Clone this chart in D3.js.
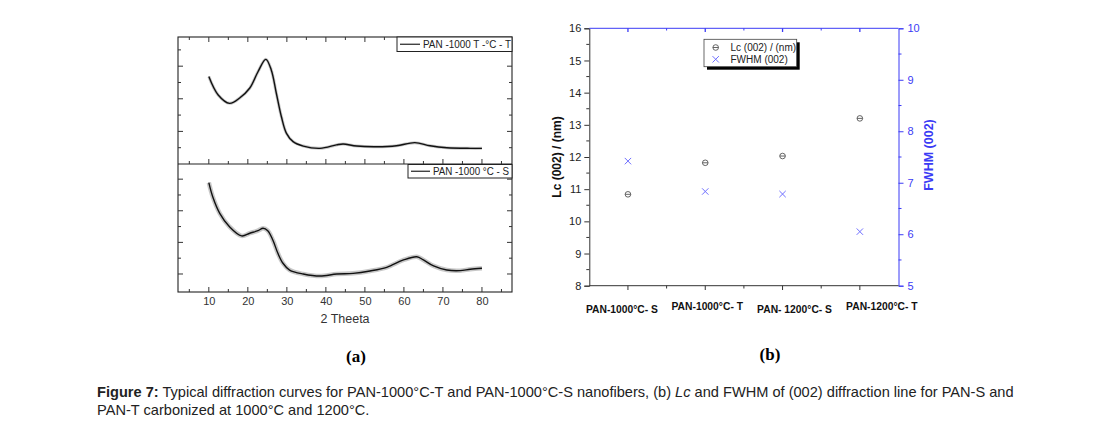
<!DOCTYPE html>
<html><head><meta charset="utf-8">
<script src="https://cdn.jsdelivr.net/npm/d3@7"></script>
<style>body{margin:0;background:#fff}svg{display:block}</style>
</head><body>
<svg id="c" width="1096" height="421"></svg>
<script>
// ---------- Panel (a) data: 2θ vs intensity (a.u.) ----------
const thetaT = [10,12.4,15.3,17.9,20.5,22.6,24.6,26,27.3,28.6,29.9,31.6,34.2,38.5,42.7,44.4,47.9,53,58.1,62.8,66.7,71,77,80];
const intT   = [536,423,372,405,466,566,642,577,434,290,188,137,110,96,117,123,110,106,112,131,112,100,96,96];
const thetaS = [10,11,12.8,15.3,18.4,20.5,22.6,23.9,25.1,26.4,27.7,29,30.7,34.2,38.5,42.8,47,51.3,55.6,59.9,63.3,65,67.6,71,74.4,77,80];
const intS   = [678,589,484,399,341,358,374,389,374,315,231,168,125,100,87,100,104,119,142,189,209,189,151,125,121,130,136];
const xTicksA = [10,20,30,40,50,60,70,80];
const legendT = "PAN -1000 T -°C - T";
const legendS = "PAN -1000 °C - S";

// ---------- Panel (b) data ----------
const samples = ["PAN-1000°C- S","PAN-1000°C- T","PAN- 1200°C- S","PAN-1200°C- T"];
const lcValues   = [10.84, 11.82, 12.03, 13.2];
const fwhmValues = [7.42, 6.83, 6.78, 6.05];
const lcTicks   = [8,9,10,11,12,13,14,15,16];
const fwhmTicks = [5,6,7,8,9,10];

const svg = d3.select("#c");
const FONT = "'Liberation Sans', Arial, sans-serif";
const BLUE = "#3b3bf5";

// ================= Panel (a) =================
const xA = d3.scaleLinear().domain([2.1, 87.7]).range([178, 512]);
const yTop = d3.scaleLinear().domain([0, 779]).range([164, 37]);
const yBot = d3.scaleLinear().domain([-14, 796]).range([292, 164]);
const gA = svg.append("g");

function drawCurve(th, val, ys, halo) {
  const line = d3.line().x((d,i)=>xA(th[i])).y((d,i)=>ys(val[i])).curve(d3.curveCatmullRom.alpha(0.5));
  gA.append("path").attr("d", line(val)).attr("fill","none").attr("stroke","#999").attr("stroke-width",halo).attr("stroke-opacity",0.55).attr("stroke-linejoin","round");
  gA.append("path").attr("d", line(val)).attr("fill","none").attr("stroke","#111").attr("stroke-width",1.4).attr("stroke-linejoin","round");
}
drawCurve(thetaT, intT, yTop, 3);
drawCurve(thetaS, intS, yBot, 4.5);

// frame
gA.append("rect").attr("x",178).attr("y",37).attr("width",334).attr("height",255).attr("fill","none").attr("stroke","#222").attr("stroke-width",1.1);
gA.append("line").attr("x1",178).attr("x2",512).attr("y1",yTop(0)).attr("y2",yTop(0)).attr("stroke","#222").attr("stroke-width",1.1);

// x axes (bottom of each panel, top of plot)
const minorX = d3.range(5, 90, 10);
function xTickRow(y, dir) {
  xTicksA.forEach(t => gA.append("line").attr("x1",xA(t)).attr("x2",xA(t)).attr("y1",y).attr("y2",y+dir*5).attr("stroke","#333").attr("stroke-width",1));
  minorX.forEach(t => gA.append("line").attr("x1",xA(t)).attr("x2",xA(t)).attr("y1",y).attr("y2",y+dir*3).attr("stroke","#333").attr("stroke-width",1));
}
xTickRow(292, -1);
xTickRow(164, -1);
xTickRow(37, 1);

// x labels via d3 axis
const axB = gA.append("g").attr("transform","translate(0,292)").call(d3.axisBottom(xA).tickValues(xTicksA).tickSize(0).tickPadding(5));
axB.select(".domain").remove();
axB.selectAll("text").attr("font-family",FONT).attr("font-size",11).attr("fill","#333");
gA.append("text").attr("x",345).attr("y",323).attr("text-anchor","middle").attr("font-family",FONT).attr("font-size",12.5).attr("fill","#333").text("2 Theeta");

// y ticks (no labels), left and right
function yTicks(ys, majors, minors) {
  [[178,1],[512,-1]].forEach(([x,dir])=>{
    majors.forEach(v=>gA.append("line").attr("x1",x).attr("x2",x+dir*5).attr("y1",ys(v)).attr("y2",ys(v)).attr("stroke","#333"));
    minors.forEach(v=>gA.append("line").attr("x1",x).attr("x2",x+dir*3).attr("y1",ys(v)).attr("y2",ys(v)).attr("stroke","#333"));
  });
}
yTicks(yTop, [200,400,600], [100,300,500,700]);
yTicks(yBot, [100,300,500,700], [200,400,600]);

// legends (a)
function legendA(x0, y0, w, h, lineW, textW, label) {
  gA.append("rect").attr("x",x0).attr("y",y0).attr("width",w).attr("height",h).attr("fill","#fff").attr("stroke","#222").attr("stroke-width",1);
  gA.append("line").attr("x1",x0+3).attr("x2",x0+3+lineW).attr("y1",y0+h/2).attr("y2",y0+h/2).attr("stroke","#222").attr("stroke-width",1.2);
  gA.append("text").attr("x",x0+6+lineW).attr("y",y0+h/2+3.8).attr("font-family",FONT).attr("font-size",10.5).attr("fill","#222")
    .attr("textLength",textW).attr("lengthAdjust","spacingAndGlyphs").text(label);
}
legendA(397, 37, 115, 14.5, 20, 88, legendT);
legendA(408, 164.5, 104, 13.5, 19, 76, legendS);

svg.append("text").attr("x",356).attr("y",362).attr("text-anchor","middle").attr("font-family","'Liberation Serif', serif").attr("font-weight","bold").attr("font-size",17).text("(a)");

// ================= Panel (b) =================
const gB = svg.append("g");
const xB = d3.scalePoint().domain(samples).range([589.3, 898.5]).padding(0.5);
const yLc = d3.scaleLinear().domain([8,16]).range([285.7, 28.3]);
const yFw = d3.scaleLinear().domain([5,10]).range([285.7, 28.3]);

// left axis
const axL = gB.append("g").attr("transform","translate(589.3,0)").call(d3.axisLeft(yLc).tickValues(lcTicks).tickSize(5).tickPadding(3).tickFormat(d3.format("d")));
axL.select(".domain").attr("stroke","#333");
axL.selectAll("line").attr("stroke","#333");
axL.selectAll("text").attr("font-family",FONT).attr("font-size",11).attr("fill","#222");
d3.range(8.5,16,1).forEach(v=>gB.append("line").attr("x1",589.3).attr("x2",586.3).attr("y1",yLc(v)).attr("y2",yLc(v)).attr("stroke","#333"));

// right axis
const axR = gB.append("g").attr("transform","translate(898.5,0)").call(d3.axisRight(yFw).tickValues(fwhmTicks).tickSize(5).tickPadding(4).tickFormat(d3.format("d")));
axR.select(".domain").attr("stroke",BLUE);
axR.selectAll("line").attr("stroke",BLUE);
axR.selectAll("text").attr("font-family",FONT).attr("font-size",11).attr("fill",BLUE);
d3.range(5.5,10,1).forEach(v=>gB.append("line").attr("x1",898.5).attr("x2",901.5).attr("y1",yFw(v)).attr("y2",yFw(v)).attr("stroke",BLUE));

// bottom axis
gB.append("line").attr("x1",589.3).attr("x2",898.5).attr("y1",285.7).attr("y2",285.7).attr("stroke","#333");
const step = xB.step();
samples.forEach((s,i)=>{
  gB.append("line").attr("x1",xB(s)).attr("x2",xB(s)).attr("y1",285.7).attr("y2",290).attr("stroke","#333");
  if (i<samples.length-1) gB.append("line").attr("x1",xB(s)+step/2).attr("x2",xB(s)+step/2).attr("y1",285.7).attr("y2",288.5).attr("stroke","#333");
});
// top axis (blue)
gB.append("line").attr("x1",589.3).attr("x2",898.5).attr("y1",28.3).attr("y2",28.3).attr("stroke",BLUE);
samples.forEach((s,i)=>{
  gB.append("line").attr("x1",xB(s)).attr("x2",xB(s)).attr("y1",28.3).attr("y2",32).attr("stroke",BLUE).attr("stroke-width",1.3);
  if (i<samples.length-1) gB.append("line").attr("x1",xB(s)+step/2).attr("x2",xB(s)+step/2).attr("y1",28.3).attr("y2",30.5).attr("stroke",BLUE);
});

// category labels
const labelNudge = [[-6,0],[2,-3],[12,0],[22,-3]];
samples.forEach((s,i)=>{
  gB.append("text").attr("x",xB(s)+labelNudge[i][0]).attr("y",313+labelNudge[i][1]).attr("text-anchor","middle")
    .attr("font-family",FONT).attr("font-weight","bold").attr("font-size",10.3).attr("fill","#111").text(s);
});

// axis titles
gB.append("text").attr("transform","translate(561,157) rotate(-90)").attr("text-anchor","middle").attr("font-family",FONT).attr("font-weight","bold").attr("font-size",12).attr("fill","#111").text("Lc (002) / (nm)");
gB.append("text").attr("transform","translate(933,155) rotate(-90)").attr("text-anchor","middle").attr("font-family",FONT).attr("font-weight","bold").attr("font-size",12.5).attr("fill",BLUE).text("FWHM (002)");

// markers
function circleMark(g, x, y) {
  g.append("circle").attr("cx",x).attr("cy",y).attr("r",2.8).attr("fill","none").attr("stroke","#555").attr("stroke-width",0.9);
  g.append("line").attr("x1",x-2.8).attr("x2",x+2.8).attr("y1",y).attr("y2",y).attr("stroke","#555").attr("stroke-width",0.9);
}
function crossMark(g, x, y) {
  const r = 3.2;
  g.append("path").attr("d",`M${x-r},${y-r}L${x+r},${y+r}M${x-r},${y+r}L${x+r},${y-r}`).attr("stroke","#7070ff").attr("stroke-width",1);
}
samples.forEach((s,i)=>{ circleMark(gB, xB(s), yLc(lcValues[i])); });
samples.forEach((s,i)=>{ crossMark(gB, xB(s), yFw(fwhmValues[i])); });

// legend (b)
gB.append("rect").attr("x",707).attr("y",42.3).attr("width",92.7).attr("height",27.4).attr("fill","#000");
gB.append("rect").attr("x",704).attr("y",39.3).attr("width",92.7).attr("height",27.4).attr("fill","#fff").attr("stroke","#444").attr("stroke-width",0.8);
circleMark(gB, 715.7, 47.5);
crossMark(gB, 715.7, 59.3);
gB.append("text").attr("x",730.5).attr("y",51).attr("font-family",FONT).attr("font-size",10).attr("fill","#222").text("Lc (002) / (nm)");
gB.append("text").attr("x",730.5).attr("y",63).attr("font-family",FONT).attr("font-size",10).attr("fill","#222").text("FWHM (002)");

svg.append("text").attr("x",770).attr("y",360).attr("text-anchor","middle").attr("font-family","'Liberation Serif', serif").attr("font-weight","bold").attr("font-size",17).text("(b)");

// caption
const cap = svg.append("g").attr("font-family",FONT).attr("font-size",14.6).attr("fill","#222");
const l1 = cap.append("text").attr("x",97).attr("y",397);
l1.append("tspan").attr("font-weight","bold").text("Figure 7:");
l1.append("tspan").text(" Typical diffraction curves for PAN-1000°C-T and PAN-1000°C-S nanofibers, (b) ");
l1.append("tspan").attr("font-style","italic").text("Lc");
l1.append("tspan").text(" and FWHM of (002) diffraction line for PAN-S and");
cap.append("text").attr("x",97).attr("y",415).text("PAN-T carbonized at 1000°C and 1200°C.");
</script>
</body></html>
